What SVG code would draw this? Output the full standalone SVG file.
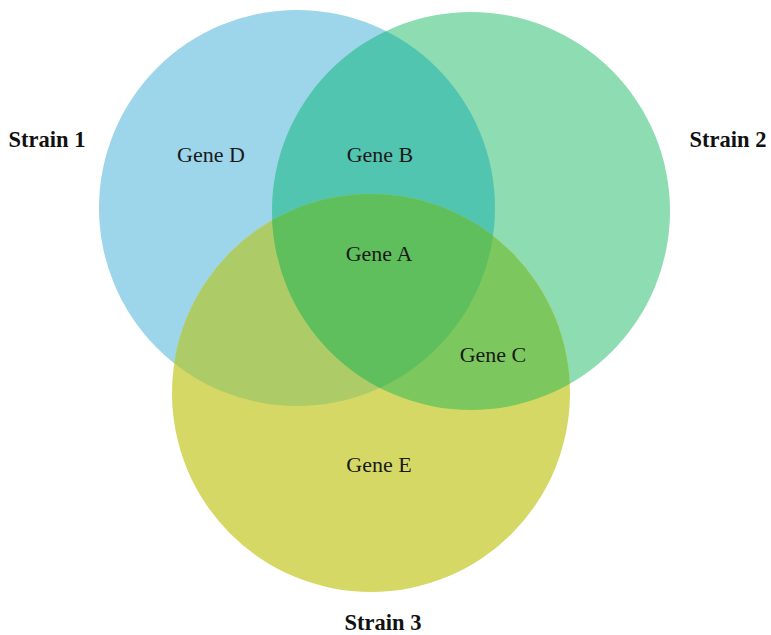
<svg xmlns="http://www.w3.org/2000/svg" width="771" height="635" viewBox="0 0 771 635">
<style>
.g{font-family:"Liberation Serif","Times New Roman",serif;font-size:22px;fill:#1a1a1a;text-anchor:middle}
.s{font-family:"Liberation Serif","Times New Roman",serif;font-size:22.5px;font-weight:bold;fill:#111;text-anchor:middle}
</style>
<defs>
<clipPath id="cB"><circle cx="297" cy="208" r="198"/></clipPath>
<clipPath id="cG"><circle cx="471" cy="211" r="199"/></clipPath>
</defs>
<rect width="771" height="635" fill="#fff"/>
<g id="strain1">
<circle cx="297" cy="208" r="198" fill="#9dd5ea"/>
</g>
<g id="strain2">
<circle cx="471" cy="211" r="199" fill="#8edcb1"/>
</g>
<g id="strain3">
<circle cx="371" cy="393" r="199" fill="#d6d866"/>
</g>
<g id="overlaps">
<circle cx="471" cy="211" r="199" fill="#52c5b0" clip-path="url(#cB)"/>
<circle cx="371" cy="393" r="199" fill="#adcc68" clip-path="url(#cB)"/>
<circle cx="371" cy="393" r="199" fill="#7cc85e" clip-path="url(#cG)"/>
<g clip-path="url(#cG)"><circle cx="371" cy="393" r="199" fill="#5fbf5c" clip-path="url(#cB)"/></g>
</g>
<g id="labels">
<text class="s" x="47" y="147">Strain 1</text>
<text class="s" x="728" y="147">Strain 2</text>
<text class="s" x="383" y="630">Strain 3</text>
<text class="g" x="211" y="162">Gene D</text>
<text class="g" x="380" y="162">Gene B</text>
<text class="g" x="379" y="261">Gene A</text>
<text class="g" x="493" y="362">Gene C</text>
<text class="g" x="379" y="472">Gene E</text>
</g>
</svg>
